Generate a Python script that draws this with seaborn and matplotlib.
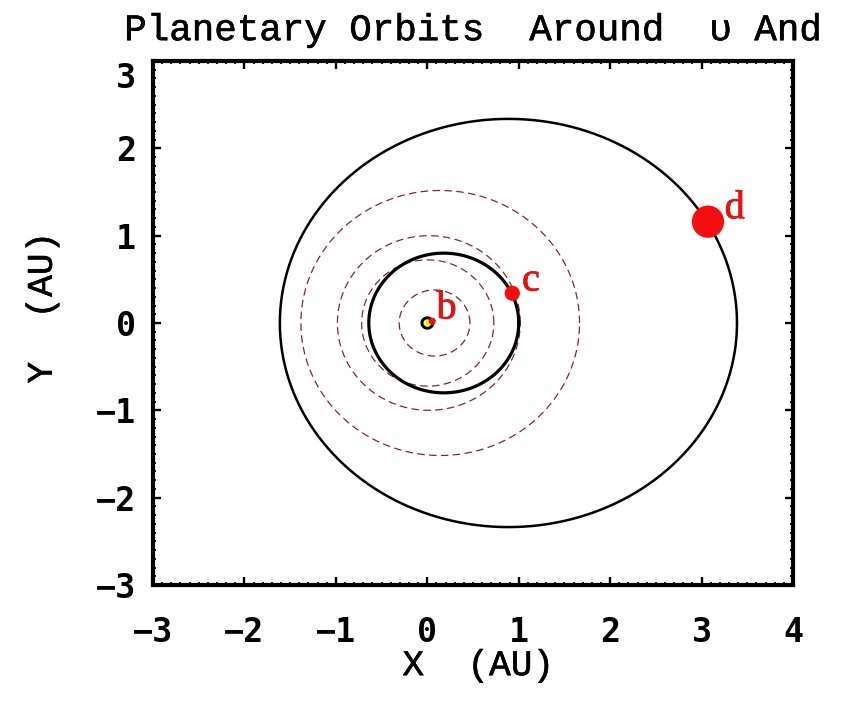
import numpy as np
import pandas as pd
import matplotlib
matplotlib.use("Agg")
import matplotlib.pyplot as plt
import matplotlib.transforms as mtransforms
import matplotlib.patheffects as pe
from matplotlib.ticker import MultipleLocator
import seaborn as sns

# ---------------- data ----------------
planet_names = ["b", "c", "d"]
planet_a = [0.059, 0.82, 2.50]      # semi-major axis (AU)
planet_e = [0.01, 0.22, 0.355]      # eccentricity
planet_x = [0.055, 0.93, 3.07]      # current position X (AU)
planet_y = [0.02, 0.34, 1.16]       # current position Y (AU)

solar_names = ["Mercury", "Venus", "Earth", "Mars"]
solar_a = [0.387, 0.723, 1.000, 1.524]
solar_e = [0.206, 0.007, 0.017, 0.093]

x_ticks = [-3, -2, -1, 0, 1, 2, 3, 4]
y_ticks = [-3, -2, -1, 0, 1, 2, 3]
title_text = "Planetary Orbits  Around  \u03c5 And"
x_label = "X  (AU)"
y_label = "Y  (AU)"

# ---------------- style ----------------
sns.set_theme(style="ticks")
plt.rcParams["font.family"] = ["DejaVu Sans Mono", "DejaVu Sans"]
plt.rcParams["axes.linewidth"] = 3.0
plt.rcParams["text.color"] = "black"
plt.rcParams["axes.labelcolor"] = "black"
plt.rcParams["xtick.color"] = "black"
plt.rcParams["ytick.color"] = "black"

fig = plt.figure(figsize=(8.42, 7.02), dpi=100)
fig.patch.set_facecolor("white")
ax = fig.add_axes([0.1817, 0.1667, 0.7601, 0.7464])
ax.set_facecolor("white")


def orbit_frame(a, e, name):
    t = np.linspace(0, 2 * np.pi, 721)
    b = a * np.sqrt(1 - e ** 2)
    return pd.DataFrame({"x": a * e + a * np.cos(t), "y": b * np.sin(t), "orbit": name})


# solar-system reference orbits (dashed, dark red)
for n, a, e in zip(solar_names, solar_a, solar_e):
    df = orbit_frame(a, e, n)
    sns.lineplot(data=df, x="x", y="y", sort=False, estimator=None, ax=ax,
                 color="#7a2a2a", linewidth=0.9, linestyle=(0, (6, 3.5)), zorder=2)

# upsilon And planet orbits (solid black)
orbit_lw = {"b": 2.2, "c": 2.3, "d": 1.8}
for n, a, e in zip(planet_names, planet_a, planet_e):
    df = orbit_frame(a, e, n)
    sns.lineplot(data=df, x="x", y="y", sort=False, estimator=None, ax=ax,
                 color="black", linewidth=orbit_lw[n], zorder=3)

# star
sns.scatterplot(x=[0.0], y=[0.0], ax=ax, color="yellow", s=22, linewidth=0,
                zorder=4, legend=False)

# planets
pdf = pd.DataFrame({"x": planet_x, "y": planet_y, "name": planet_names})
size_map = {"b": 26, "c": 120, "d": 540}
sns.scatterplot(data=pdf, x="x", y="y", size="name", sizes=size_map,
                color="#f20f0f", linewidth=0, ax=ax, zorder=5, legend=False)

label_offsets = {"b": (3.0, 2.0), "c": (7.0, 2.0), "d": (12.0, 2.5)}
for n, x, y in zip(planet_names, planet_x, planet_y):
    ax.annotate(n, xy=(x, y), xytext=label_offsets[n], textcoords="offset points",
                ha="left", va="baseline", color="#e01414", fontsize=29,
                family=["Liberation Serif", "DejaVu Serif"], zorder=6,
                path_effects=[pe.withStroke(linewidth=0.6, foreground="#e01414")])

# ---------------- axes ----------------
ax.set_xlim(-3, 4)
ax.set_ylim(-3, 3)
ax.set_xticks(x_ticks)
ax.set_yticks(y_ticks)
ax.set_xticklabels([str(v).replace("-", "\u2212") for v in x_ticks], fontweight="bold")
ax.set_yticklabels([str(v).replace("-", "\u2212") for v in y_ticks], fontweight="bold")
ax.xaxis.set_minor_locator(MultipleLocator(0.1))
ax.yaxis.set_minor_locator(MultipleLocator(0.1))
ax.tick_params(which="both", direction="in", top=True, right=True,
               color="black", labelcolor="black")
ax.tick_params(which="major", length=6, width=1.7, labelsize=24)
ax.tick_params(axis="x", which="major", pad=22)
ax.tick_params(axis="y", which="major", pad=12)
ax.tick_params(which="minor", length=2.5, width=1.3)
for sp in ax.spines.values():
    sp.set_color("black")
    sp.set_linewidth(3.0)

thick = [pe.withStroke(linewidth=0.4, foreground="black")]
ax.set_xlabel(x_label, fontsize=26, color="black",
              family=["Liberation Mono", "DejaVu Sans Mono"], path_effects=thick)
ax.set_ylabel(y_label, fontsize=26, color="black",
              family=["Liberation Mono", "DejaVu Sans Mono"], path_effects=thick)
ax.xaxis.set_label_coords(0.508, -0.154)
ax.xaxis.label.set_verticalalignment("center")
ax.yaxis.set_label_coords(-0.173, 0.529)
ax.yaxis.label.set_verticalalignment("center")
ax.yaxis.label.set_horizontalalignment("center")

ax.set_title(title_text, fontsize=27, pad=15, color="black",
             family=["Liberation Mono", "DejaVu Sans Mono"], path_effects=thick)

# top y-label sits a little lower, as in the reference
top_tick = ax.yaxis.get_major_ticks()[-1]
top_tick.label1.set_transform(top_tick.label1.get_transform() +
                              mtransforms.ScaledTranslation(0, -10 / 72, fig.dpi_scale_trans))

fig.savefig("out.png", dpi=100, facecolor="white")
